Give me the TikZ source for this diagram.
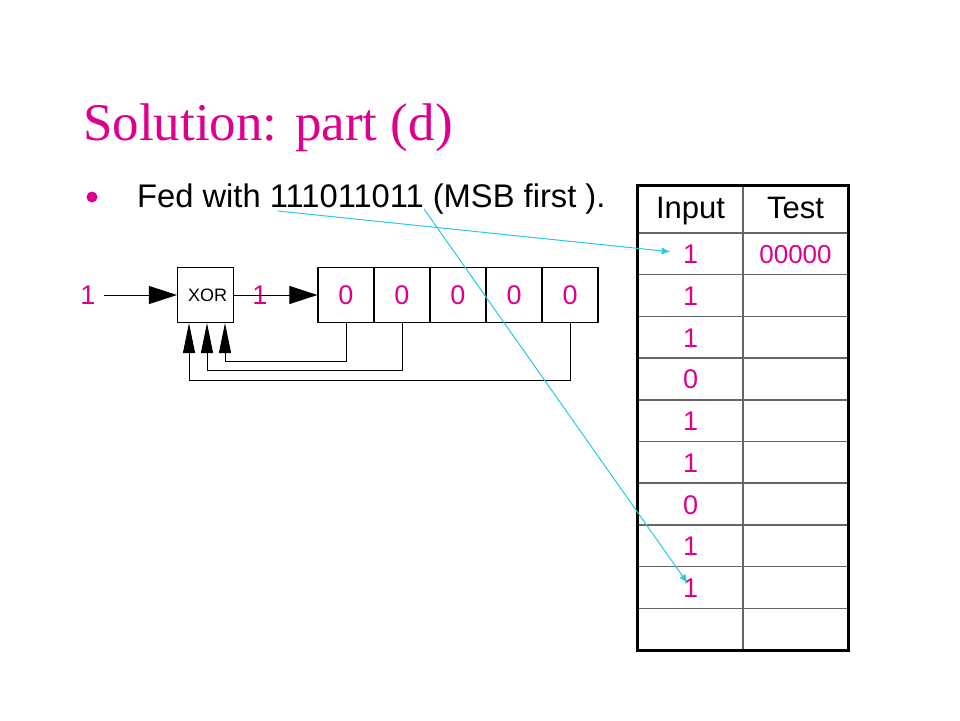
\documentclass[tikz,border=0pt]{standalone}
\usepackage{fontspec}
\setmainfont{Liberation Sans}
\newfontfamily\titlefont{Liberation Serif}
\usepackage{tikz}
\usetikzlibrary{arrows.meta}
\usetikzlibrary{positioning}
\definecolor{solmag}{RGB}{222,0,140}
\definecolor{lnkcyan}{RGB}{40,200,230}
\tikzset{circ/.style = {fill = solmag, circle, inner sep = 0, minimum size = 11}}
\tikzset{bit/.style = {text = solmag, inner sep = 2, font = \fontsize{27}{27}\selectfont}}
\tikzset{cell/.style = {draw, line width = 1.2, minimum width = 56, minimum height = 55, inner sep = 0, text = solmag, font = \fontsize{27}{27}\selectfont}}
\tikzset{tcell/.style = {draw = black!60, line width = 1.5, minimum width = 105, minimum height = 41.7, inner sep = 0, text height = 20, text depth = 0, text = solmag, font = \fontsize{27}{27}\selectfont}}
\tikzset{inarr/.style = {line width = 1, -{Triangle[length = 28, width = 18]}}}
\tikzset{fbarr/.style = {line width = 1, -{Triangle[length = 30, width = 12]}}}
\tikzset{link/.style = {draw = lnkcyan, line width = 1, -{Latex[length = 9, width = 7]}}}

\begin{document}
\begin{tikzpicture}[x = 1pt, y = -1pt]
  \useasboundingbox (0, 0) rectangle (960, 720);
  \node [anchor = base west, text = solmag, inner sep = 0, font = \titlefont\fontsize{53}{60}\selectfont] (title) at (83, 140) {Solution: part (d)};
  \node [circ] (dot) at (92, 197) {};
  \node [anchor = base west, inner sep = 0, font = \fontsize{32.7}{36}\selectfont] (fed) at (137, 207) {Fed with 111011011 (MSB first ).};

  % shift register
  \node [bit] (in) at (88, 295) {1};
  \node [cell, text = black, font = \fontsize{18}{18}\selectfont] (xor) at (205.5, 295) {\hspace{4pt}XOR};
  \node [bit] (out) at (260, 295) {1};
  \foreach \i/\x in {1/346, 2/402, 3/458, 4/514, 5/570} {
    \node [cell] (r\i) at (\x, 295) {0};
  }
  \draw [inarr, shorten <= 6] (in) -- (xor);
  \draw [inarr] (xor) -- (r1);
  \foreach \r/\x/\y in {r1/225/361, r2/207/370, r5/189/380} {
    \draw [fbarr] (\r.south) |- (\x, \y) -- (\x, \y |- xor.south);
  }

  % table
  \node [tcell, text = black, minimum height = 47, text height = 23, text depth = 6, font = \fontsize{31}{31}\selectfont] (hin) at (690.5, 209.5) {Input};
  \node [tcell, text = black, minimum height = 47, text height = 23, text depth = 6, font = \fontsize{31}{31}\selectfont] (htest) at (795.5, 209.5) {Test};
  \foreach \i/\b/\t in {1/1/00000, 2/1/{}, 3/1/{}, 4/0/{}, 5/1/{}, 6/1/{}, 7/0/{}, 8/1/{}, 9/1/{}, 10/{}/{}} {
    \node [tcell] (inp\i) at (690.5, 212.15 + 41.7 * \i) {\b};
    \node [tcell, font = \fontsize{26}{26}\selectfont] (tst\i) at (795.5, 212.15 + 41.7 * \i) {\t};
  }
  \draw [line width = 3] (hin.north west) rectangle (tst10.south east);

  \coordinate (s1) at (278, 211);
  \coordinate (s2) at (424, 209);
  \draw [link, shorten >= 20] (s1) -- (inp1.center);
  \draw [link, shorten >= 5] (s2) -- (inp9.center);
\end{tikzpicture}
\end{document}
